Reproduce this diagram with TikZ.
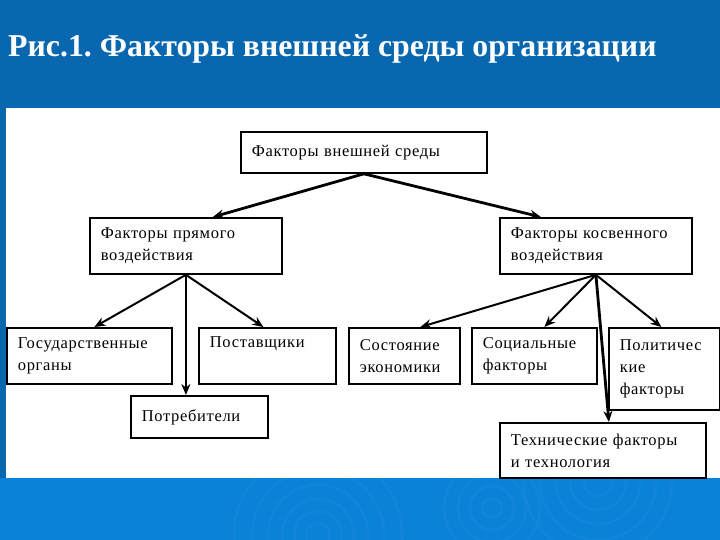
\documentclass[tikz,border=0pt]{standalone}
\usepackage{fontspec}
\setmainfont{Liberation Serif}
\usetikzlibrary{arrows.meta,calc}
\frenchspacing
\definecolor{topblue}{RGB}{8,103,174}
\definecolor{botblue}{RGB}{10,130,215}
\definecolor{ripple}{RGB}{30,140,222}
\tikzset{
  box/.style={draw=black, line width=1.8pt, fill=white, anchor=north west,
    align=left, inner xsep=11pt, inner ysep=0pt,
    font=\fontsize{16.5}{22}\selectfont\addfontfeatures{LetterSpace=4}},
  arr/.style={line width=2pt, -{Stealth[length=11pt,width=9pt]}},
  arrthick/.style={arr, line width=2.8pt},
  ttl/.style={text=white, anchor=base west, inner sep=0pt,
    font=\fontsize{31.8}{36}\bfseries\selectfont}
}
\begin{document}
\begin{tikzpicture}[x=1pt,y=-1pt]
\useasboundingbox (0,0) rectangle (720,540);
% background
\fill[topblue] (0,0) rectangle (720,540);
\fill[botblue] (0,478) rectangle (720,540);
\begin{scope}
\clip (0,478) rectangle (720,540);
\foreach \r in {12,24,36,50,66,84}{\draw[ripple, line width=3pt, opacity=0.35] (318,535) circle (\r);}
\foreach \r in {10,22,34,48}{\draw[ripple, line width=3pt, opacity=0.35] (492,508) circle (\r);}
\foreach \r in {14,28,42,58,74}{\draw[ripple, line width=3pt, opacity=0.35] (598,482) circle (\r);}
\end{scope}
\fill[white] (6,108) rectangle (720,478);
% title
\node[ttl] (title) at (8,57) {Рис.1. Факторы внешней среды организации};
% boxes
\node[box, text width=224pt, minimum height=41pt] (top) at (240,131) {Факторы внешней среды};
\node[box, text width=170pt, minimum height=56pt] (direct) at (89,217) {Факторы прямого\\воздействия};
\node[box, text width=170pt, minimum height=56pt] (indirect) at (499,217) {Факторы косвенного\\воздействия};
\node[box, text width=143pt, minimum height=56pt] (gov) at (6,327) {Государственные\\органы};
\node[box, text width=115pt, minimum height=56pt] (post) at (198,327) {Поставщики\\\strut};
\node[box, text width=89pt, minimum height=56pt] (econ) at (348,327) {Состояние\\экономики};
\node[box, text width=103pt, minimum height=56pt] (soc) at (471,327) {Социальные\\факторы};
\node[box, text width=89pt, minimum height=82pt] (pol) at (608,327) {Политичес\\кие\\факторы};
\node[box, text width=115pt, minimum height=42pt] (cons) at (130,395) {Потребители};
\node[box, text width=184pt, minimum height=55pt] (tech) at (499,422) {Технические факторы\\и технология};
% connectors
\draw[arrthick] (top.south) -- ([xshift=27pt]direct.north);
\draw[arrthick] (top.south) -- ([xshift=-55pt]indirect.north);
\draw[arr] (direct.south) -- ([xshift=5pt]gov.north);
\draw[arr] (direct.south) -- ([xshift=-4pt]post.north);
\draw[arr] (direct.south) -- (direct.south |- cons.north);
\draw[arr] (indirect.south) -- ([xshift=16pt]econ.north);
\draw[arr] (indirect.south) -- ([xshift=10pt]soc.north);
\draw[arr] (indirect.south) -- ([xshift=-3pt]pol.north);
\draw[arrthick] (indirect.south) -- ([xshift=6pt]tech.north);
\end{tikzpicture}
\end{document}
